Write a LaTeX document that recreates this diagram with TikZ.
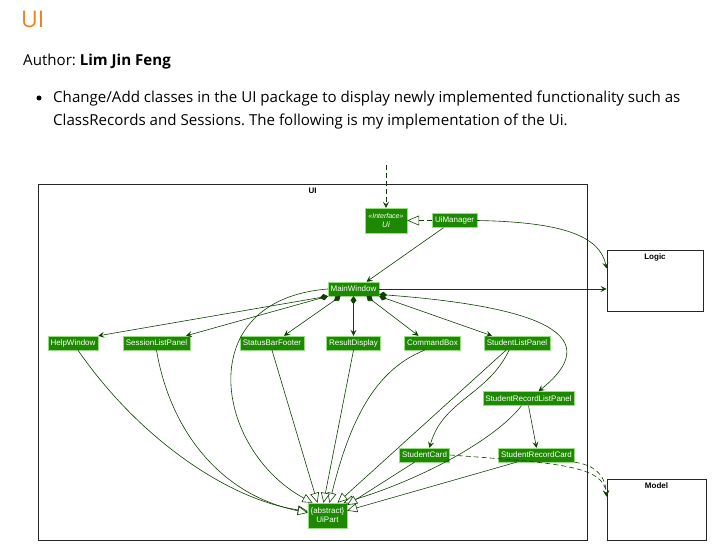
\documentclass[tikz,border=0pt]{standalone}
\usepackage{fontspec}
\setmainfont{Open Sans}
\newfontfamily\umlfont{Liberation Sans}
\usetikzlibrary{arrows.meta,positioning}
\frenchspacing
\definecolor{uicolor}{HTML}{1D8900}
\definecolor{uiedge}{HTML}{0E4100}
\definecolor{uiborder}{HTML}{9ADB85}
\definecolor{headorange}{HTML}{EE7F22}
\tikzset{
    uiclass/.style={fill=uicolor, draw=uiborder, line width=0.4pt, text=white,
      font=\umlfont\fontsize{8}{9}\selectfont, inner xsep=2.6pt, inner ysep=0pt,
      minimum height=14pt}, % one class of the UI component
    package/.style={draw=black!85, line width=0.9pt, inner sep=0pt}, % package frame
    pkgname/.style={font=\umlfont\bfseries\fontsize{8}{9}\selectfont, inner sep=0pt},
    bodytext/.style={anchor=base west, inner sep=0, font=\fontsize{15.1}{20}\selectfont},
    assoc/.style={color=uiedge, line width=0.6pt,
      -{Stealth[length=6pt,width=6pt,inset=2.5pt]}},
    depend/.style={assoc, dash pattern=on 5pt off 3pt},
    comp/.style={color=uiedge, line width=0.6pt,
      {Diamond[length=8pt,width=6pt]}-{Stealth[length=6pt,width=6pt,inset=2.5pt]}},
    extend/.style={color=uiedge, line width=0.6pt,
      -{Triangle[open,length=10pt,width=9pt,fill=white]}},
    realize/.style={color=uiedge, line width=0.6pt, dash pattern=on 5pt off 3pt,
      -{Triangle[open,length=12pt,width=10pt,fill=white]}},
}

\begin{document}
\begin{tikzpicture}[x=1pt,y=-1pt]
  \useasboundingbox[fill=white] (0,0) rectangle (728,553);

  % page text above the diagram
  \node[anchor=base west, inner sep=0, text=headorange,
    font=\fontsize{23}{26}\selectfont] (title) at (21,28) {UI};
  \node[bodytext] (author) at (23,66) {Author: \textbf{Lim Jin Feng}};
  \node[circle, fill=black, inner sep=0, minimum size=5pt] (bullet) at (39,98) {};
  \node[bodytext] (line1) at (53,103)
    {Change/Add classes in the UI package to display newly implemented functionality such as};
  \node[bodytext] (line2) at (53,126)
    {ClassRecords and Sessions. The following is my implementation of the Ui.};

  % packages
  \node[package, minimum width=549pt, minimum height=356pt] (uipkg) at (312.5,362) {};
  \node[pkgname, anchor=north] (uiname) at ([yshift=-4pt]uipkg.north) {UI};
  \node[package, minimum width=96pt, minimum height=61pt] (logic) at (655,280.5) {};
  \node[pkgname, anchor=north] (logicname) at ([yshift=-4pt]logic.north) {Logic};
  \node[package, minimum width=99pt, minimum height=61pt] (model) at (656.5,509.5) {};
  \node[pkgname, anchor=north] (modelname) at ([yshift=-4pt]model.north) {Model};

  % classes
  \node[uiclass, minimum width=42pt, minimum height=25pt, align=center,
    font=\umlfont\itshape\fontsize{8}{9}\selectfont] (ui) at (386,220.5)
    {{\fontsize{7}{8}\selectfont «Interface»}\\Ui};
  \node[uiclass, right=25pt of ui] (uimgr) {UiManager};
  \node[uiclass] (mainwin) at (353.5,289) {MainWindow};
  \node[uiclass] (helpwin) at (73,343) {HelpWindow};
  \node[uiclass] (sessionlist) at (156.5,343) {SessionListPanel};
  \node[uiclass] (statusbar) at (272,343) {StatusBarFooter};
  \node[uiclass] (resultdisp) at (353.5,343) {ResultDisplay};
  \node[uiclass] (cmdbox) at (432.5,343) {CommandBox};
  \node[uiclass] (studentlist) at (517,343) {StudentListPanel};
  \node[uiclass] (recordlist) at (528.5,398.5) {StudentRecordListPanel};
  \node[uiclass] (studentcard) at (424.5,455) {StudentCard};
  \node[uiclass] (recordcard) at (536.5,455) {StudentRecordCard};
  \node[uiclass, minimum width=39pt, minimum height=25pt, align=center] (uipart)
    at (327.5,515.5) {\{abstract\}\\UiPart};

  \coordinate (uitop) at (386,165);

  % ui interface and manager
  \draw[depend] (uitop) -- (ui.north);
  \draw[realize] (uimgr.west) -- (ui.east);
  \draw[assoc] ([xshift=-11pt]uimgr.south) -- ([xshift=13pt]mainwin.north);
  \draw[assoc] (uimgr.east) .. controls (560,222) and (600,235) .. ([yshift=12pt]logic.west);
  \draw[assoc] (mainwin.east) -- (mainwin.east -| logic.west);

  % parts of the main window
  \path[comp]
    (mainwin.south west) edge (helpwin.north east)
    (mainwin.south west) edge ([xshift=-4pt]sessionlist.north east)
    ([xshift=-13pt]mainwin.south) edge ([xshift=12pt]statusbar.north)
    (mainwin.south) edge (resultdisp.north)
    ([xshift=13pt]mainwin.south) edge ([xshift=-14pt]cmdbox.north)
    (mainwin.south east) edge ([xshift=-25pt]studentlist.north);
  \draw[comp] (mainwin.-12) .. controls (520,305) and (615,330) .. ([xshift=10pt]recordlist.north);
  \path[assoc]
    ([xshift=-8pt]studentlist.south) edge[out=-115, in=75] ([xshift=5pt]studentcard.north)
    (recordlist.south) edge (recordcard.north);

  % everything is a UiPart
  \draw[extend] (mainwin.west) .. controls (190,300) and (215,450) .. ([xshift=-15pt]uipart.north);
  \draw[extend] ([xshift=5pt]helpwin.south) .. controls (140,440) and (230,500) .. (uipart.168);
  \draw[extend] (sessionlist.south) .. controls (170,430) and (220,495) .. (uipart.172);
  \draw[extend] ([xshift=-8pt]cmdbox.south) .. controls (375,370) and (350,420) .. ([xshift=2pt]uipart.north);
  \draw[extend] ([xshift=-7pt]recordlist.south) .. controls (495,440) and (420,480) .. ([xshift=16pt]uipart.north);
  \path[extend]
    (statusbar.south) edge ([xshift=-10pt]uipart.north)
    (resultdisp.south) edge ([xshift=-4pt]uipart.north)
    ([xshift=-11pt]studentlist.south) edge ([xshift=10pt]uipart.north)
    ([xshift=-10pt]studentcard.south) edge (uipart.28)
    ([xshift=-20pt]recordcard.south) edge (uipart.14);

  % cards use the model
  \draw[depend] (studentcard.east) .. controls (560,463) and (604,466) .. ([yshift=13pt]model.west);
  \draw[depend] (recordcard.south east) .. controls (592,465) and (605,472) .. ([yshift=13pt]model.west);
\end{tikzpicture}
\end{document}
